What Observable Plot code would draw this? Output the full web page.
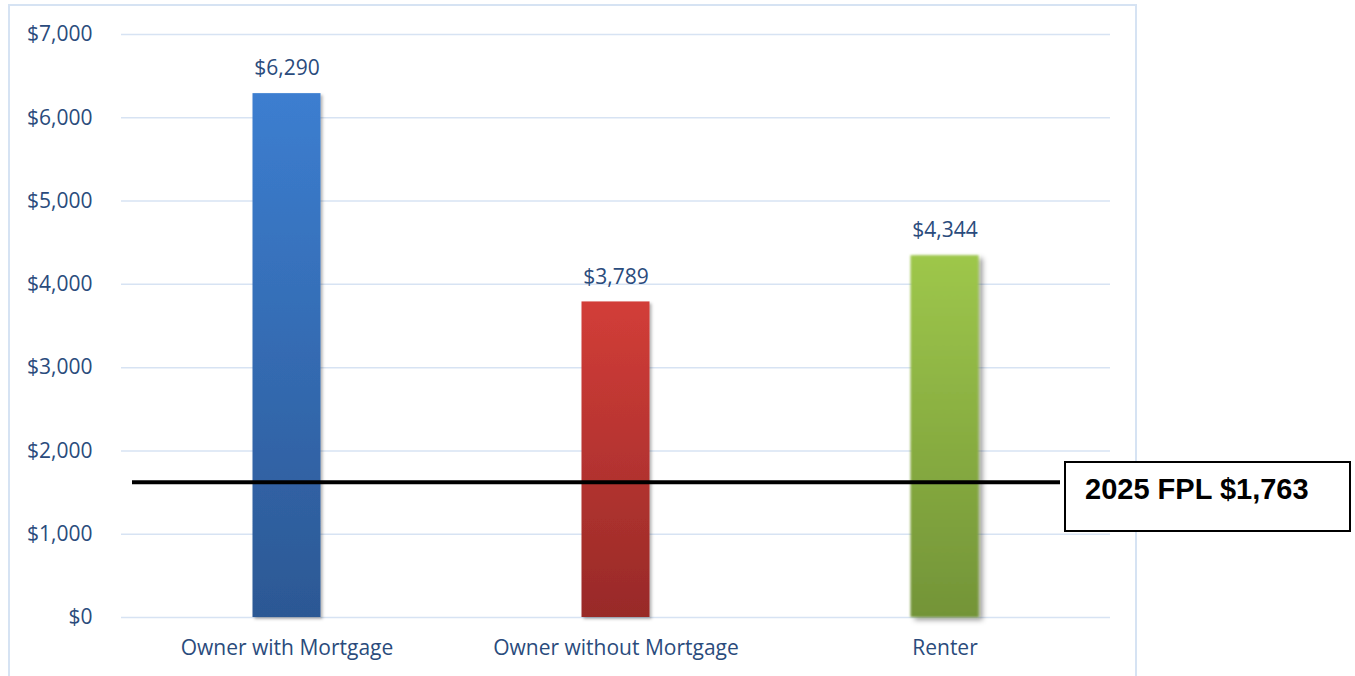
<!DOCTYPE html>
<html>
<head>
<meta charset="utf-8">
<script src="https://cdn.jsdelivr.net/npm/d3@7"></script>
<script src="https://cdn.jsdelivr.net/npm/@observablehq/plot@0.6"></script>
<style>
  html, body { margin: 0; padding: 0; background: #fff; }
  #wrap { position: relative; width: 1355px; height: 676px; overflow: hidden; }
  #frame { position: absolute; left: 8px; top: 4px; width: 1129px; height: 700px; border: 2px solid #d6e3f3; box-sizing: border-box; }
  #chart { position: absolute; left: 0; top: 0; }
  #fplbox { position: absolute; left: 1064px; top: 461px; width: 287px; height: 71px; border: 2px solid #000; box-sizing: border-box; background: #fff;
    font-family: "Liberation Sans", Arial, sans-serif; font-weight: bold; font-size: 29px; line-height: 29px; color: #000; padding: 12px 0 0 19px; white-space: nowrap; }
</style>
</head>
<body>
<div id="wrap">
  <div id="frame"></div>
  <div id="chart"></div>
  <div id="fplbox"></div>
</div>
<script>
// Data
const categories = ["Owner with Mortgage", "Owner without Mortgage", "Renter"];
const values = [6290, 3789, 4344];
const yTicks = [0, 1000, 2000, 3000, 4000, 5000, 6000, 7000];
const fplLabel = "2025 FPL $1,763";
const fplLineLevel = [1625]; // level at which the line is drawn in the picture

// Styles
const gradTop = ["#3c7ed0", "#d23d38", "#9ec74b"];
const gradBottom = ["#2c5894", "#982a28", "#739438"];
const textBlue = "#2a4b7c";

const data = categories.map((c, i) => ({category: c, value: values[i], i}));
const fmt = v => "$" + d3.format(",")(v);

const chart = Plot.plot({
  width: 1355,
  height: 676,
  marginLeft: 121,
  marginRight: 245,
  marginTop: 34,
  marginBottom: 59,
  style: {fontFamily: "'Open Sans', sans-serif", fontSize: "21px", color: textBlue, background: "transparent", overflow: "visible"},
  x: {domain: categories, padding: 0, label: null},
  y: {domain: [0, 7000], label: null},
  color: {type: "identity"},
  marks: [
    Plot.gridY(yTicks, {stroke: "#d7e3f3", strokeOpacity: 1, strokeWidth: 1.5}),
    Plot.axisY(yTicks, {tickSize: 0, tickPadding: 29, tickFormat: fmt, fill: textBlue, fontSize: 21}),
    Plot.axisX({tickSize: 0, tickPadding: 23, fill: textBlue, fontSize: 21}),
    Plot.barY(data, {x: "category", y: "value", fill: d => `url(#grad${d.i})`, insetLeft: 130.5, insetRight: 130.5}),
    Plot.text(data, {x: "category", y: "value", text: d => fmt(d.value), dy: -25, fill: textBlue, fontSize: 21, lineAnchor: "middle"}),
    Plot.ruleY(fplLineLevel, {stroke: "#000", strokeWidth: 4, insetLeft: 11, insetRight: 50})
  ]
});

// gradients & shadows
const svg = d3.select(chart);
const defs = svg.insert("defs", ":first-child");
gradTop.forEach((c, i) => {
  const g = defs.append("linearGradient").attr("id", `grad${i}`).attr("x1", 0).attr("y1", 0).attr("x2", 0).attr("y2", 1);
  g.append("stop").attr("offset", "0%").attr("stop-color", c);
  g.append("stop").attr("offset", "100%").attr("stop-color", gradBottom[i]);
});
const f = defs.append("filter").attr("id", "shadow").attr("x", "-20%").attr("y", "-5%").attr("width", "150%").attr("height", "115%");
f.append("feDropShadow").attr("dx", 2).attr("dy", 2).attr("stdDeviation", 1.5).attr("flood-color", "#000").attr("flood-opacity", 0.3);
const f2 = defs.append("filter").attr("id", "shadowBlur").attr("x", "-20%").attr("y", "-5%").attr("width", "150%").attr("height", "115%");
f2.append("feGaussianBlur").attr("in", "SourceGraphic").attr("stdDeviation", 1.2).attr("result", "b");
f2.append("feDropShadow").attr("in", "b").attr("dx", 4).attr("dy", 3).attr("stdDeviation", 2.5).attr("flood-color", "#000").attr("flood-opacity", 0.4);
svg.selectAll("g[aria-label=bar] rect").attr("filter", (d, i, n) => i === 2 ? "url(#shadowBlur)" : "url(#shadow)");

document.getElementById("chart").appendChild(chart);
document.getElementById("fplbox").textContent = fplLabel;
</script>
</body>
</html>
